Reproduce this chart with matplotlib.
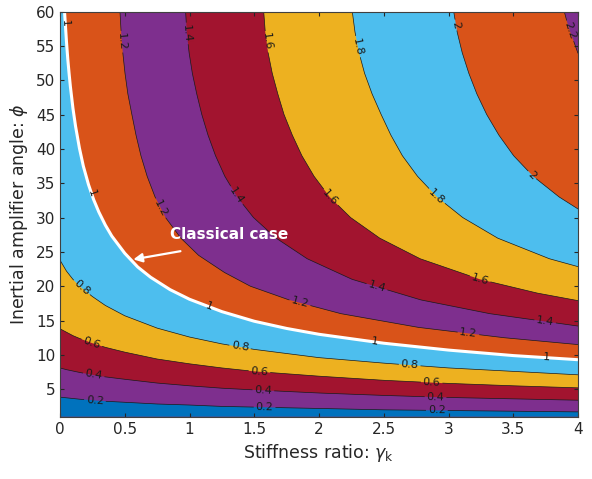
import numpy as np
import matplotlib.pyplot as plt
from matplotlib.contour import ContourSet

# contour levels and the colour of the band just below each level
levels = [0.2, 0.4, 0.6, 0.8, 1.0, 1.2, 1.4, 1.6, 1.8, 2.0, 2.2]
band_colors = ['#0072BD', '#7E2F8E', '#A2142F', '#EDB120', '#4DBEEE', '#D95319',
               '#7E2F8E', '#A2142F', '#EDB120', '#4DBEEE', '#D95319', '#7E2F8E']

# contour lines (stiffness ratio, angle in degrees)
gamma_low = [0, 0.05, 0.1, 0.15, 0.25, 0.35, 0.5, 0.75, 1, 1.25, 1.5, 2, 2.5, 3, 3.5, 4]
phi_02 = [3.85, 3.75, 3.65, 3.55, 3.4, 3.25, 3.1, 2.85, 2.7, 2.5, 2.4, 2.2, 2.0, 1.9, 1.8, 1.7]
phi_04 = [8.1, 7.85, 7.65, 7.45, 7.1, 6.8, 6.45, 5.9, 5.5, 5.15, 4.9, 4.45, 4.1, 3.8, 3.6, 3.4]
phi_06 = [13.8, 13.3, 12.8, 12.4, 11.7, 11.1, 10.4, 9.4, 8.7, 8.1, 7.6, 6.9, 6.3, 5.85, 5.5, 5.2]
phi_08 = [23.8, 22.2, 21.0, 20.0, 18.5, 17.2, 15.7, 13.9, 12.6, 11.6, 10.8, 9.6, 8.8, 8.1, 7.6, 7.1]

gamma_10 = [0.035, 0.04, 0.05, 0.06, 0.07, 0.08, 0.1, 0.12, 0.15, 0.18, 0.22, 0.26, 0.3,
            0.35, 0.4, 0.5, 0.6, 0.7, 0.85, 1.0, 1.25, 1.5, 1.75, 2, 2.5, 3, 3.5, 4]
phi_10 = [60, 58.5, 55.6, 53.1, 51.0, 49.1, 45.9, 43.3, 40.1, 37.5, 34.8, 32.6, 30.8,
          28.9, 27.3, 24.8, 22.8, 21.3, 19.5, 18.1, 16.3, 14.9, 13.85, 13.0, 11.7, 10.7, 9.9, 9.3]

gamma_12 = [0.463, 0.472, 0.485, 0.502, 0.524, 0.555, 0.587, 0.625, 0.673, 0.734,
            0.815, 0.933, 1.07, 1.27, 1.47, 1.77, 2.17, 2.77, 3.43, 4.0]
phi_12 = [60, 57, 54, 51, 48, 45, 42, 39, 36, 33, 30, 27, 24.5, 22, 20, 18, 16, 14, 12.5, 11.5]

gamma_14 = [0.97, 0.979, 0.997, 1.022, 1.056, 1.095, 1.143, 1.201, 1.273, 1.368,
            1.494, 1.669, 1.909, 2.256, 2.788, 3.32, 4.0]
phi_14 = [60, 57, 54, 51, 48, 45, 42, 39, 36, 33, 30, 27, 24, 21, 18, 16, 14.2]

gamma_16 = [1.573, 1.585, 1.607, 1.639, 1.682, 1.73, 1.794, 1.868, 1.962, 2.082,
            2.244, 2.469, 2.781, 3.243, 3.685, 4.0]
phi_16 = [60, 57, 54, 51, 48, 45, 42, 39, 36, 33, 30, 27, 24, 21, 19, 17.9]

gamma_18 = [2.257, 2.278, 2.309, 2.352, 2.41, 2.48, 2.555, 2.644, 2.761, 2.911,
            3.11, 3.38, 3.779, 4.0]
phi_18 = [60, 57, 54, 51, 48, 45, 42, 39, 36, 33, 30, 27, 24, 22.85]

gamma_20 = [3.04, 3.067, 3.106, 3.157, 3.219, 3.295, 3.389, 3.503, 3.654, 3.854, 4.0]
phi_20 = [60, 57, 54, 51, 48, 45, 42, 39, 36, 33, 31.25]

gamma_22 = [3.894, 3.915, 3.94, 3.97, 4.0]
phi_22 = [60, 58.5, 57, 55.5, 53.9]

gamma_lim = (0, 4)
phi_lim = (1, 60)

curves = [(gamma_low, phi_02), (gamma_low, phi_04), (gamma_low, phi_06),
          (gamma_low, phi_08), (gamma_10, phi_10), (gamma_12, phi_12),
          (gamma_14, phi_14), (gamma_16, phi_16), (gamma_18, phi_18),
          (gamma_20, phi_20), (gamma_22, phi_22)]

fig = plt.figure(figsize=(5.92, 4.79), dpi=100)
ax = fig.add_axes([60 / 592, 62.3 / 479, 518 / 592, 405.2 / 479])
ax.set_xlim(gamma_lim)
ax.set_ylim(phi_lim)
ax.set_facecolor(band_colors[-1])

# paint from the highest level down: everything under a contour gets the band colour
for i in reversed(range(len(levels))):
    g, p = curves[i]
    xs = [gamma_lim[0]] + list(g) + [gamma_lim[1], gamma_lim[0]]
    ys = [phi_lim[1]] + list(p) + [phi_lim[0], phi_lim[0]]
    ax.fill(xs, ys, color=band_colors[i], lw=0, zorder=1)

segs = [[np.column_stack([g, p])] for g, p in curves]
cs = ContourSet(ax, levels, segs, colors='#1a1a1a', linewidths=0.5)

# classical case line (level 1) in white
ax.plot(gamma_10, phi_10, color='white', lw=2.2, zorder=3, solid_capstyle='butt')

ax.set_xlim(gamma_lim)
ax.set_ylim(phi_lim)

label_spots = [
    (0.27, 3.4), (1.58, 2.4), (2.91, 1.85),
    (0.26, 7.05), (1.57, 4.8), (2.9, 3.85),
    (0.245, 11.7), (1.54, 7.55), (2.87, 5.95),
    (0.167, 19.8), (1.39, 11.1), (2.70, 8.45),
    (0.04, 58.3), (0.232, 33.5), (1.145, 16.7), (2.43, 11.8), (3.76, 9.5),
    (0.476, 55.6), (0.78, 31.4), (1.853, 17.6), (3.153, 13.0),
    (0.978, 56.8), (1.351, 33.1), (2.446, 19.8), (3.745, 14.7),
    (1.596, 55.6), (2.085, 32.85), (3.24, 20.8),
    (2.304, 54.9), (2.909, 33.1),
    (3.05, 58.0), (3.64, 36.1),
    (3.925, 57.1),
]
cs.clabel(manual=label_spots, inline=True, inline_spacing=2, fontsize=8,
          fmt=lambda v: f'{v:g}')

ax.text(0.849, 26.9, 'Classical case', color='white', fontweight='bold',
        fontsize=11, va='baseline', ha='left', zorder=5)
ax.annotate('', xy=(0.566, 23.9), xytext=(0.93, 25.1),
            arrowprops=dict(arrowstyle='-|>', color='white', lw=1.6,
                            mutation_scale=13, shrinkA=0, shrinkB=0), zorder=5)

xt = [0, 0.5, 1, 1.5, 2, 2.5, 3, 3.5, 4]
ax.set_xticks(xt, [f'{v:g}' for v in xt])
ax.set_yticks(range(5, 61, 5))
ax.tick_params(direction='in', top=True, right=True, length=3, labelsize=11,
               colors='#262626')
for s in ax.spines.values():
    s.set_color('#404040')
    s.set_linewidth(0.8)
    s.set_zorder(6)

ax.set_xlabel(r'Stiffness ratio: $\gamma_\mathrm{k}$', fontsize=12.5, color='#262626')
ax.set_ylabel(r'Inertial amplifier angle: $\phi$', fontsize=12.5, color='#262626')

fig.savefig('out.png', dpi=100)
